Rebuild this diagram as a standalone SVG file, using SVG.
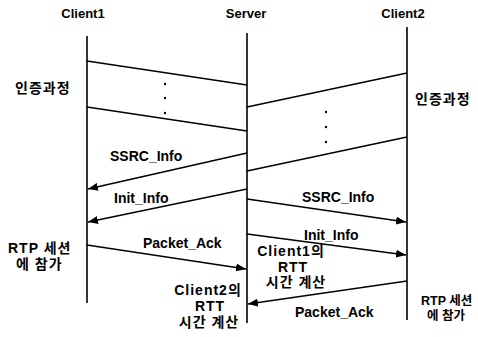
<svg xmlns="http://www.w3.org/2000/svg" width="478" height="337" viewBox="0 0 478 337">
<defs>
<marker id="ah" viewBox="0 0 10 8" refX="10" refY="4" markerWidth="10" markerHeight="8" markerUnits="userSpaceOnUse" orient="auto">
<path d="M0,0 L10,4 L0,8 Z" fill="#000"/>
</marker>
</defs>
<style>
text{font-family:"Liberation Sans","Noto Sans CJK KR",sans-serif;font-weight:bold;fill:#000}
.h{font-size:13px;text-anchor:middle}
.l{font-size:14px}
.k{font-size:14px;letter-spacing:1px}
.s{font-size:12.5px}
.m{text-anchor:middle}
.life{stroke:#000;stroke-width:1.6;fill:none}
.msg{stroke:#000;stroke-width:1.6;fill:none}
.arr{marker-end:url(#ah)}
</style>
<rect width="478" height="337" fill="#fff"/>
<g id="client1">
<text class="h" x="83" y="18">Client1</text>
<line class="life" x1="87" y1="36" x2="87" y2="303"/>
<text class="k" x="15" y="93">인증과정</text>
<text class="k" x="8" y="253">RTP 세션</text>
<text class="k" x="16" y="269">에 참가</text>
</g>
<g id="server">
<text class="h" x="246" y="18">Server</text>
<line class="life" x1="247" y1="33" x2="247" y2="323"/>
<text class="k m" x="208" y="295">Client2의</text>
<text class="k m" x="210" y="311">RTT</text>
<text class="k m" x="209" y="327">시간 계산</text>
<text class="k m" x="291" y="256">Client1의</text>
<text class="k m" x="293" y="272">RTT</text>
<text class="k m" x="296" y="287">시간 계산</text>
</g>
<g id="client2">
<text class="h" x="403" y="18">Client2</text>
<line class="life" x1="407" y1="27" x2="407" y2="320"/>
<text class="k" x="415" y="104">인증과정</text>
<text class="s" x="421" y="305">RTP 세션</text>
<text class="s" x="427" y="320">에 참가</text>
</g>
<g id="connectors">
<line class="msg" x1="87" y1="61" x2="247" y2="85"/>
<line class="msg" x1="87" y1="107" x2="247" y2="131"/>
<line class="msg" x1="247" y1="107" x2="407" y2="73"/>
<line class="msg" x1="247" y1="171" x2="407" y2="137"/>
<g fill="#000">
<circle cx="165" cy="84" r="1.2"/>
<circle cx="165" cy="98" r="1.2"/>
<circle cx="165" cy="113" r="1.2"/>
<circle cx="326" cy="112" r="1.2"/>
<circle cx="326" cy="127" r="1.2"/>
<circle cx="326" cy="142" r="1.2"/>
</g>
<line class="msg arr" x1="247" y1="153" x2="88" y2="189"/>
<line class="msg arr" x1="247" y1="189" x2="88" y2="222"/>
<line class="msg arr" x1="247" y1="199" x2="406" y2="222"/>
<line class="msg arr" x1="247" y1="234" x2="406" y2="255"/>
<line class="msg arr" x1="87" y1="245" x2="246" y2="269"/>
<line class="msg arr" x1="407" y1="281" x2="248" y2="304"/>
<text class="l" x="110" y="161">SSRC_Info</text>
<text class="l" x="114" y="203">Init_Info</text>
<text class="l" x="302" y="202">SSRC_Info</text>
<text class="l" x="304" y="240">Init_Info</text>
<text class="l" x="143" y="248">Packet_Ack</text>
<text class="l" x="295" y="317">Packet_Ack</text>
</g>
</svg>
